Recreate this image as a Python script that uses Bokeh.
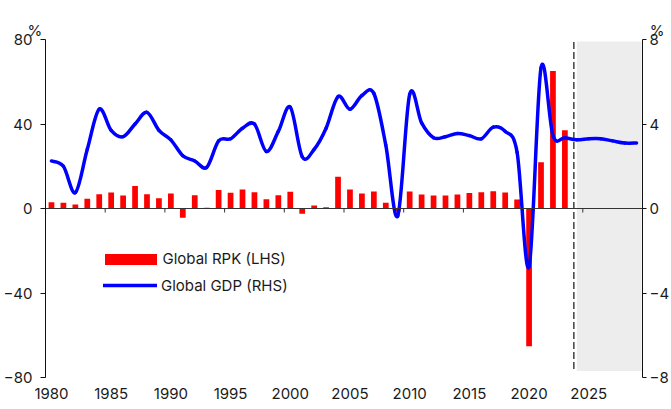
import numpy as np
from bokeh.plotting import figure
from bokeh.models import (Range1d, LinearAxis, FixedTicker, Legend, LegendItem,
                          BoxAnnotation, Span, ColumnDataSource, Title)
from bokeh.embed import file_html
from bokeh.resources import INLINE

# ---------------- data ----------------
years = list(range(1980, 2030))
rpk_years = list(range(1980, 2024))
rpk_growth = [3.0, 2.7, 1.9, 4.6, 6.8, 7.6, 6.2, 10.6, 6.8, 4.9,
              7.1, -4.4, 6.3, 0.3, 8.8, 7.4, 9.0, 7.7, 4.4, 6.3,
              7.9, -2.5, 1.4, 0.6, 15.0, 9.0, 7.1, 8.1, 2.7, -1.5,
              8.1, 6.6, 6.2, 6.2, 6.6, 7.3, 7.7, 8.2, 7.6, 4.3,
              -65.2, 21.9, 65.1, 37.0]
gdp_growth = [2.25, 2.0, 0.75, 2.8, 4.7, 3.7, 3.4, 4.0, 4.55, 3.7,
              3.25, 2.5, 2.25, 1.95, 3.2, 3.3, 3.8, 4.0, 2.7, 3.65,
              4.8, 2.45, 2.8, 3.8, 5.3, 4.7, 5.35, 5.45, 3.0, -0.35,
              5.4, 4.05, 3.35, 3.4, 3.55, 3.45, 3.3, 3.85, 3.65, 2.65,
              -2.75, 6.65, 3.45, 3.35, 3.25, 3.3, 3.3, 3.2, 3.1, 3.1]
x_tick_labels = [1980, 1985, 1990, 1995, 2000, 2005, 2010, 2015, 2020, 2025]
left_ticks = [-80, -40, 0, 40, 80]
right_ticks = [-8, -4, 0, 4, 8]
unit_label = "%"
forecast_start = 2024

# ---------------- style ----------------
FONT = "Inter"
TXT = "#1a1a1a"
FS = "15px"
FRAME_H = 338

x_lo, x_hi = years[0] - 0.5, years[-1] + 0.5
y_lo, y_hi = -80, 80

p = figure(frame_width=597, frame_height=FRAME_H,
           x_range=Range1d(x_lo, x_hi), y_range=Range1d(y_lo, y_hi),
           output_backend="svg", toolbar_location=None,
           x_axis_location=None, y_axis_location=None,
           min_border_left=38, min_border_right=20,
           min_border_top=39, min_border_bottom=23)
p.outline_line_color = None
p.grid.visible = False
p.background_fill_color = "white"
p.border_fill_color = "white"
p.extra_y_ranges = {"gdp": Range1d(-8, 8)}
px_per_unit = FRAME_H / (y_hi - y_lo)

# forecast shading + divider
p.add_layout(BoxAnnotation(left=forecast_start, right=x_hi - 0.08, bottom=-76.9, top=79.0,
                           fill_color="#ededed", fill_alpha=1.0, line_color=None,
                           level="underlay"))
divider = forecast_start - 0.25
p.segment(x0=[divider], x1=[divider], y0=[-76.0], y1=[79.2],
          line_color="#333333", line_width=1.4, line_dash="7 3")

# bars
src_rpk = ColumnDataSource(dict(x=rpk_years, top=rpk_growth))
bars = p.vbar(x="x", top="top", bottom=0, width=0.48, source=src_rpk,
              fill_color="#ff0000", line_color=None)

# zero line with category-boundary tick marks
boundaries = [x_lo + 5 * k for k in range(11)]
tick_len = 4 / px_per_unit
p.segment(x0=boundaries, x1=boundaries, y0=[0] * len(boundaries),
          y1=[-tick_len] * len(boundaries), line_color="#333333", line_width=1)
p.add_layout(Span(location=0, dimension="width", line_color="#333333", line_width=1))

# smoothed GDP line (Catmull-Rom -> cubic Bezier through every data point)
gx = np.array(years, dtype=float)
gy = np.array(gdp_growth, dtype=float)
px = np.concatenate([[gx[0]], gx, [gx[-1]]])
py = np.concatenate([[gy[0]], gy, [gy[-1]]])
x0, y0 = px[1:-2], py[1:-2]
x1, y1 = px[2:-1], py[2:-1]
cx0 = x0 + (px[2:-1] - px[0:-3]) / 6.0
cy0 = y0 + (py[2:-1] - py[0:-3]) / 6.0
cx1 = x1 - (px[3:] - px[1:-2]) / 6.0
cy1 = y1 - (py[3:] - py[1:-2]) / 6.0
src_gdp = ColumnDataSource(dict(x0=x0, y0=y0, x1=x1, y1=y1,
                                cx0=cx0, cy0=cy0, cx1=cx1, cy1=cy1))
gdp = p.bezier(x0="x0", y0="y0", x1="x1", y1="y1", cx0="cx0", cy0="cy0",
               cx1="cx1", cy1="cy1", source=src_gdp, y_range_name="gdp",
               line_color="#0000ff", line_width=3.5, line_cap="round")

# axes
def style_axis(ax):
    ax.minor_tick_line_color = None
    ax.major_label_text_font = FONT
    ax.major_label_text_font_size = FS
    ax.major_label_text_color = TXT

ya = LinearAxis(ticker=FixedTicker(ticks=left_ticks), major_tick_out=5, major_tick_in=0,
                major_label_standoff=8, axis_line_color="#111111",
                major_tick_line_color="#111111")
style_axis(ya)
p.add_layout(ya, "left")

yb = LinearAxis(y_range_name="gdp", ticker=FixedTicker(ticks=right_ticks), major_tick_out=4,
                major_tick_in=0, major_label_standoff=3, axis_line_color="#111111",
                major_tick_line_color="#111111")
style_axis(yb)
p.add_layout(yb, "right")

xa = LinearAxis(ticker=FixedTicker(ticks=x_tick_labels), axis_line_color=None,
                major_tick_line_color=None, major_tick_out=0, major_tick_in=0,
                major_label_standoff=10)
style_axis(xa)
p.add_layout(xa, "below")

# "%" unit markers over the left (LHS) and right (RHS) value axes, one header line
# (added first so it stacks outermost in the top panel)
units_header = unit_label + "\u00a0" * 144 + unit_label
p.add_layout(Title(text=units_header, align="left", offset=-18, standoff=0,
                   text_font=FONT, text_font_size=FS, text_font_style="normal",
                   text_color=TXT), "above")

# empty spacer row between the frame and the unit header (no ticks, no line)
spacer = LinearAxis(ticker=FixedTicker(ticks=[]), axis_line_color=None,
                    major_tick_line_color=None, minor_tick_line_color=None,
                    major_tick_out=18, major_tick_in=0, minor_tick_out=0, minor_tick_in=0,
                    major_label_standoff=0)
p.add_layout(spacer, "above")

# legends
common = dict(padding=0, margin=0, border_line_color=None, background_fill_alpha=0,
              label_text_font=FONT, label_text_font_size=FS, label_text_color=TXT,
              label_height=12)
leg1 = Legend(items=[LegendItem(label="Global RPK (LHS)", renderers=[bars])],
              location=(52.5, 109), glyph_width=65, glyph_height=14, label_standoff=0,
              **common)
leg2 = Legend(items=[LegendItem(label="Global GDP (RHS)", renderers=[gdp], index=0)],
              location=(58, 82.5), glyph_width=54, glyph_height=18, label_standoff=4,
              **common)
p.add_layout(leg1)
p.add_layout(leg2)

open("out.html", "w").write(file_html(p, INLINE))
